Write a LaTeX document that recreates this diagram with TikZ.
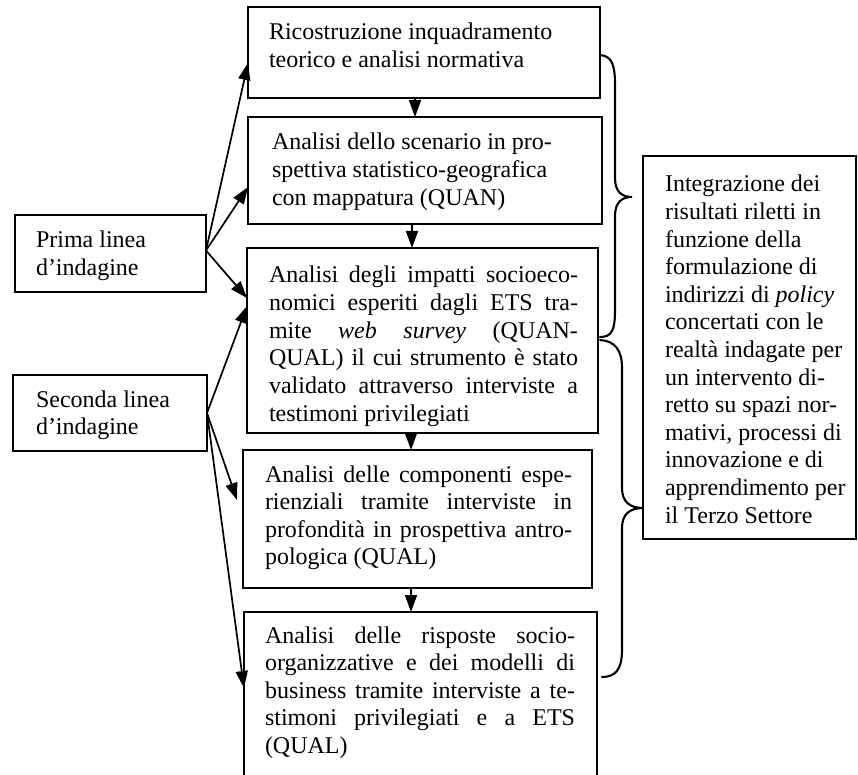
\documentclass[tikz,border=0pt]{standalone}
\usepackage{fontspec}
\setmainfont{Liberation Serif}
\usetikzlibrary{arrows.meta}
\begin{document}
\begin{tikzpicture}[x=1pt,y=-1pt,
  box/.style={draw, rectangle, line width=2.1pt, inner sep=0pt, outer sep=0pt},
  txt/.style={inner sep=0pt, outer sep=0pt, anchor=base west, font=\fontsize{24pt}{27.6pt}\selectfont},
  arr/.style={line width=1.7pt, -{Triangle[length=17pt,width=12pt]}},
  bracepath/.style={line width=2.1pt, line cap=round}]
\useasboundingbox (0,0) rectangle (858,775);
\clip (0,0) rectangle (858,775);
% boxes
\node[box, minimum width=352pt, minimum height=91pt] (b1) at (424,52.5) {};
\node[box, minimum width=354pt, minimum height=107pt] (b2) at (425,170.5) {};
\node[box, minimum width=351pt, minimum height=185pt] (b3) at (422.5,340.5) {};
\node[box, minimum width=349pt, minimum height=138pt] (b4) at (417.5,519) {};
\node[box, minimum width=353pt, minimum height=188pt] (b5) at (420.5,706) {};
\node[box, minimum width=191pt, minimum height=77pt] (prima) at (110.5,253.5) {};
\node[box, minimum width=194pt, minimum height=76pt] (seconda) at (110,413) {};
\node[box, minimum width=213pt, minimum height=383pt] (integr) at (749.5,347.5) {};
% texts
\node[txt] (t1) at (269,40) {\parbox[t]{320pt}{Ricostruzione inquadramento\\teorico e analisi normativa}};
\node[txt] (t2) at (272,150) {\parbox[t]{320pt}{Analisi dello scenario in pro-\\spettiva statistico-geografica\\con mappatura (QUAN)}};
\node[txt] (t3) at (269,283) {\parbox[t]{309pt}{%
\makebox[\linewidth][s]{Analisi degli impatti socioeco-}\\
\makebox[\linewidth][s]{nomici esperiti dagli ETS tra-}\\
\makebox[\linewidth][s]{mite \textit{web survey} (QUAN-}\\
\makebox[\linewidth][s]{QUAL) il cui strumento è stato}\\
\makebox[\linewidth][s]{validato attraverso interviste a}\\
testimoni privilegiati}};
\node[txt] (t4) at (265,482) {\parbox[t]{307pt}{%
\makebox[\linewidth][s]{Analisi delle componenti espe-}\\
\makebox[\linewidth][s]{rienziali tramite interviste in}\\
\makebox[\linewidth][s]{profondità in prospettiva antro-}\\
pologica (QUAL)}};
\node[txt] (t5) at (265,643) {\parbox[t]{310pt}{%
\makebox[\linewidth][s]{Analisi delle risposte socio-}\\
\makebox[\linewidth][s]{organizzative e dei modelli di}\\
\makebox[\linewidth][s]{business tramite interviste a te-}\\
\makebox[\linewidth][s]{stimoni privilegiati e a ETS}\\
(QUAL)}};
\node[txt] (tp) at (36,248) {\parbox[t]{160pt}{Prima linea\\d’indagine}};
\node[txt] (ts) at (36,407) {\parbox[t]{160pt}{Seconda linea\\d’indagine}};
\node[txt] (tr) at (665,192) {\parbox[t]{190pt}{Integrazione dei\\risultati riletti in\\funzione della\\formulazione di\\indirizzi di \textit{policy}\\concertati con le\\realtà indagate per\\un intervento di-\\retto su spazi nor-\\mativi, processi di\\innovazione e di\\apprendimento per\\il Terzo Settore}};
% vertical arrows
\coordinate (v1) at (415,0);
\coordinate (v2) at (412,0);
\coordinate (v3) at (411,0);
\draw[arr] (b1.south -| v1) -- (b2.north -| v1);
\draw[arr] (b2.south -| v2) -- (b3.north -| v2);
\draw[arr] (b3.south -| v3) -- (b4.north -| v3);
\draw[arr] (b4.south -| v3) -- (b5.north -| v3);
% diagonal arrows
\draw[arr] ([yshift=3pt]prima.east) -- ([yshift=-10.5pt]b1.west);
\draw[arr] ([yshift=3pt]prima.east) -- ([yshift=-16.5pt]b2.west);
\draw[arr] ([yshift=3pt]prima.east) -- ([yshift=42.5pt]b3.west);
\draw[arr] (seconda.east) -- ([yshift=34.5pt]b3.west);
\draw[arr] (seconda.east) -- ([xshift=-6pt,yshift=19pt]b4.west);
\draw[arr] (seconda.east) -- ([yshift=18pt]b5.west);
% braces
\draw[bracepath] (600,55) .. controls (612,56) and (615,65) .. (615,85) -- (615,178)
  .. controls (615,192) and (622,197) .. (632,197)
  .. controls (622,197) and (615,202) .. (615,216) -- (615,310)
  .. controls (615,330) and (612,337) .. (600,337);
\draw[bracepath] (600,340) .. controls (615,341) and (622,350) .. (622,368) -- (622,488)
  .. controls (622,502) and (630,508) .. (643,508)
  .. controls (630,508) and (622,514) .. (622,528) -- (622,650)
  .. controls (622,670) and (615,677) .. (602,677);
\end{tikzpicture}
\end{document}
